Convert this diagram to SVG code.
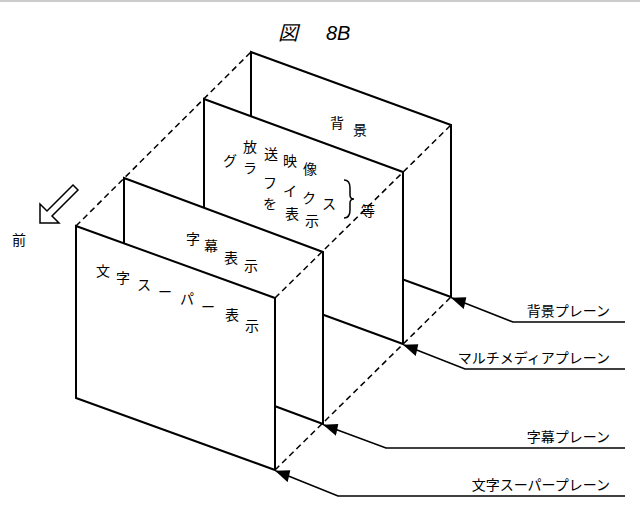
<svg xmlns="http://www.w3.org/2000/svg" width="640" height="511" viewBox="0 0 640 511">
<style>
.p{fill:#fff;stroke:#000;stroke-width:2}
.d{fill:none;stroke:#000;stroke-width:1.5;stroke-dasharray:6,4}
.l{fill:none;stroke:#000;stroke-width:1.6}
text{font-family:"Noto Sans CJK JP","Liberation Sans",sans-serif;font-size:14px;fill:#000}
.c{text-anchor:middle;dominant-baseline:central;font-size:14px}
</style>
<defs><marker id="a" markerWidth="16" markerHeight="12" refX="15" refY="6" orient="auto" markerUnits="userSpaceOnUse"><path d="M16,6L0,0L2,12Z" fill="#000"/></marker></defs>
<line x1="0" y1="1" x2="640" y2="1" stroke="#999" stroke-width="1"/>
<text x="278" y="40" style="font-size:20px;font-style:italic">図</text>
<text x="326" y="40" style="font-size:20px;font-style:italic;font-family:'Liberation Sans',sans-serif">8B</text>
<g id="back"><path class="p" d="M251,52L451,125L451,297L251,224Z"/>
<text class="c" x="337" y="122">背</text><text class="c" x="360" y="129">景</text></g>
<g id="multimedia"><path class="p" d="M204,99L403,172L403,344L204,271Z"/>
<text class="c" x="250" y="146">放</text><text class="c" x="271" y="153">送</text><text class="c" x="290" y="160">映</text><text class="c" x="310" y="168">像</text>
<text class="c" x="230" y="160">グ</text><text class="c" x="250" y="167">ラ</text><text class="c" x="270" y="182">フ</text><text class="c" x="290" y="190">イ</text><text class="c" x="309" y="197">ク</text><text class="c" x="329" y="203">ス</text>
<text class="c" x="270" y="203">を</text><text class="c" x="292" y="213">表</text><text class="c" x="312" y="220">示</text>
<path d="M344,180Q350,180 350,188L350,195Q350,199 354,199Q350,199 350,203L350,210Q350,218 344,218" fill="none" stroke="#000" stroke-width="1.5"/>
<text class="c" x="368" y="210">等</text></g>
<g id="caption"><path class="p" d="M124,178L323,252L323,424L124,350Z"/>
<text class="c" x="193" y="238">字</text><text class="c" x="211" y="245">幕</text><text class="c" x="231" y="257">表</text><text class="c" x="251" y="265">示</text></g>
<g id="superimpose"><path class="p" d="M76,226L275,298L275,470L76,398Z"/>
<text class="c" x="103" y="270">文</text><text class="c" x="123" y="277">字</text><text class="c" x="144" y="284">ス</text><text class="c" x="165" y="291">ー</text><text class="c" x="187" y="298">パ</text><text class="c" x="208" y="306">ー</text><text class="c" x="232" y="314">表</text><text class="c" x="252" y="325">示</text></g>
<g id="connectors">
<line class="d" x1="76" y1="226" x2="251" y2="52"/>
<line class="d" x1="275" y1="298" x2="451" y2="125"/>
<line class="d" x1="275" y1="470" x2="451" y2="297"/>
<path class="l" d="M625,322H513L452,298" marker-end="url(#a)"/>
<path class="l" d="M625,369H465L404,345" marker-end="url(#a)"/>
<path class="l" d="M625,448H386L324,425" marker-end="url(#a)"/>
<path class="l" d="M625,496H338L276,471" marker-end="url(#a)"/>
</g>
<polygon points="40,223 40,204 47,211 73,185 78,190 52,216 59,223" fill="#fff" stroke="#000" stroke-width="1.5"/>
<text x="12" y="245">前</text>
<text x="610" y="316" text-anchor="end">背景プレーン</text>
<text x="610" y="363" text-anchor="end">マルチメディアプレーン</text>
<text x="610" y="442" text-anchor="end">字幕プレーン</text>
<text x="610" y="490" text-anchor="end">文字スーパープレーン</text>
</svg>
